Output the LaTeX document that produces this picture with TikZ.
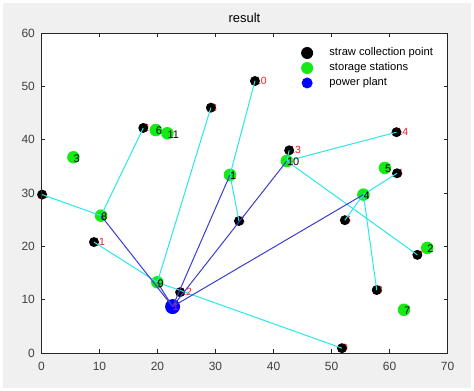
\documentclass[tikz,border=0pt]{standalone}
\usepackage{fontspec}
\setmainfont{Liberation Sans}
\definecolor{figgray}{RGB}{240,240,240}
\definecolor{axgray}{RGB}{38,38,38}
\definecolor{tickgray}{RGB}{64,64,64}
\definecolor{cyanl}{RGB}{40,232,232}
\definecolor{bluel}{RGB}{60,60,210}
\definecolor{greenm}{RGB}{20,235,20}
\definecolor{redl}{RGB}{235,30,30}
\begin{document}
\begin{tikzpicture}[x=5.8bp,y=5.333bp,
  spt/.style={circle,fill=black,inner sep=0pt,minimum size=10bp},
  sst/.style={circle,fill=greenm,inner sep=0pt,minimum size=12.5bp},
  ppt/.style={circle,fill=blue,inner sep=0pt,minimum size=15bp},
  lgm/.style={circle,inner sep=0pt,minimum size=12bp},
  cyanline/.style={draw=cyanl,line width=1bp},
  blueline/.style={draw=bluel,line width=1bp},
  rlab/.style={anchor=west,inner sep=0pt,text=redl,font=\fontsize{10.5}{10.5}\selectfont},
  blab/.style={anchor=west,inner sep=0pt,text=black,font=\fontsize{11}{11}\selectfont,yshift=-1bp},
  ticklab/.style={text=tickgray,font=\fontsize{12}{12}\selectfont,inner sep=0pt},
  legtxt/.style={anchor=west,inner sep=0pt,text=black,font=\fontsize{11.2}{11.2}\selectfont},
  axline/.style={draw=axgray,line width=0.6bp}]
\useasboundingbox (-7.155,-7.125) rectangle (74.57,66.19);
\fill[white] (-7.155,-7.125) rectangle (74.57,66.19);
\fill[figgray] (-6.638,-6.563) rectangle (74.05,65.63);
\fill[white] (0,0) rectangle (70,60);
% ticks
\foreach \x in {0,10,...,70}{
  \draw[axline] (\x,0) -- ++(0bp,4bp);
  \draw[axline] (\x,60) -- ++(0bp,-4bp);
  \node[ticklab] (xt\x) at (\x,-2.56) {\x};
}
\foreach \y in {0,10,...,60}{
  \draw[axline] (0,\y) -- ++(4bp,0bp);
  \draw[axline] (70,\y) -- ++(-4bp,0bp);
  \node[ticklab,anchor=east] (yt\y) at (-1.12,\y) {\y};
}
\node[text=black,font=\fontsize{13}{13}\selectfont,inner sep=0pt] (title) at (35,62.8) {result};
% red labels of collection points (drawn beneath the markers)
\foreach \n/\px/\py/\t in {b1/0.1/29.7/1, b2/17.55/42.2/2, b3/29.2/46.0/3, b10/36.8/51.0/10,
  b13/42.7/38.0/13, b14/61.2/41.4/14, b4/61.3/33.7/4, b5/34.05/24.75/5, b6/52.3/24.9/6,
  b7/64.8/18.4/7, b8/57.8/11.8/8, b9/51.8/0.9/9, b11/9.05/20.8/11, b12/23.9/11.4/12}{
  \node[rlab] (l\n) at (\px,\py) {\t};
}
% collection points
\foreach \n/\px/\py in {b1/0.1/29.7, b2/17.55/42.2, b3/29.2/46.0, b10/36.8/51.0,
  b13/42.7/38.0, b14/61.2/41.4, b4/61.3/33.7, b5/34.05/24.75, b6/52.3/24.9,
  b7/64.8/18.4, b8/57.8/11.8, b9/51.8/0.9, b11/9.05/20.8, b12/23.9/11.4}{
  \node[spt] (\n) at (\px,\py) {};
}
% storage stations
\foreach \n/\px/\py in {s1/32.5/33.4, s2/66.5/19.7, s3/5.5/36.7, s4/55.5/29.7, s5/59.2/34.7,
  s6/19.7/41.8, s7/62.5/8.1, s8/10.26/25.75, s9/19.97/13.26, s10/42.3/36.0, s11/21.7/41.2}{
  \node[sst] (\n) at (\px,\py) {};
}
% power plant
\node[ppt] (p) at (22.6,8.7) {};
% connectors
\foreach \a/\b in {b1/s8, s8/b2, s9/b3, s1/b10, s1/b5, s10/b13, s10/b14, s10/b7,
  s4/b4, s4/b6, s4/b8, b11/s9, s9/b9}{
  \draw[cyanline] (\a.center) -- (\b.center);
}
\foreach \s in {s8,s9,s1,s10,s4}{
  \draw[blueline] (p.center) -- (\s.center);
}
% station labels
\foreach \n/\t in {s1/1, s2/2, s3/3, s4/4, s5/5, s6/6, s7/7, s8/8, s9/9, s10/10, s11/11}{
  \node[blab] (t\n) at (\n.center) {\t};
}
\node[rlab,text={rgb,255:red,200;green,20;blue,200}] (tp) at (p.center) {1};
% legend
\node[lgm,fill=black] (lg1) at (45.8,56.25) {};
\node[lgm,fill=greenm] (lg2) at (45.8,53.44) {};
\node[lgm,fill=blue,minimum size=11bp] (lg3) at (45.8,50.63) {};
\node[legtxt] (lt1) at (49.6,56.25) {straw collection point};
\node[legtxt] (lt2) at (49.6,53.44) {storage stations};
\node[legtxt] (lt3) at (49.6,50.63) {power plant};
% axes box
\draw[axline] (0,0) rectangle (70,60);
\end{tikzpicture}
\end{document}
